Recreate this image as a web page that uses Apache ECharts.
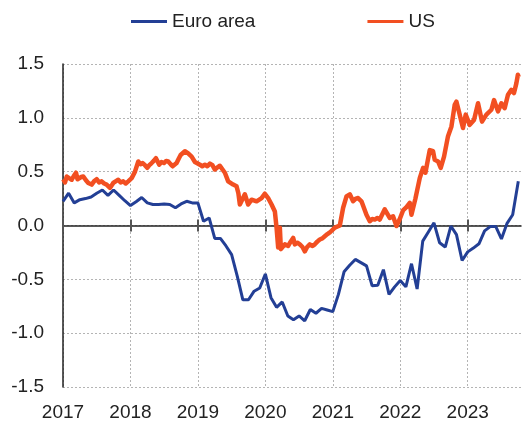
<!DOCTYPE html>
<html>
<head>
<meta charset="utf-8">
<script src="https://cdn.jsdelivr.net/npm/echarts@6/dist/echarts.min.js"></script>
<style>
  html, body { margin: 0; padding: 0; background: #fff; }
  #chart { width: 522px; height: 422px; }
</style>
</head>
<body>
<div id="chart"></div>
<script>
// year ticks on the x axis
var yearTicks = [2017, 2018, 2019, 2020, 2021, 2022, 2023];
var yTicks = [-1.5, -1.0, -0.5, 0.0, 0.5, 1.0, 1.5];

// Euro area, monthly from Jan 2017 to Oct 2023
var euroStart = 2017;
var euroValues = [
  0.225, 0.30, 0.21, 0.24, 0.25, 0.265, 0.30, 0.33, 0.28, 0.33, 0.28, 0.23,
  0.185, 0.22, 0.26, 0.21, 0.195, 0.195, 0.20, 0.195, 0.165, 0.20, 0.225, 0.21,
  0.21, 0.04, 0.07, -0.12, -0.12, -0.19, -0.27, -0.47, -0.69, -0.69, -0.61, -0.58,
  -0.45, -0.67, -0.76, -0.71, -0.84, -0.875, -0.84, -0.885, -0.78, -0.815, -0.77, -0.785,
  -0.80, -0.64, -0.43, -0.37, -0.315, -0.345, -0.375, -0.56, -0.555, -0.41, -0.64, -0.57,
  -0.51, -0.57, -0.355, -0.59, -0.145, -0.06, 0.025, -0.16, -0.20, -0.005, -0.085, -0.325,
  -0.245, -0.21, -0.17, -0.05, -0.01, -0.01, -0.125, 0.02, 0.10, 0.41
];

// US at irregular dates (decimal years)
var usYears = [
  2017.004, 2017.030, 2017.055, 2017.090, 2017.129, 2017.160, 2017.193, 2017.215, 2017.241, 2017.270,
  2017.301, 2017.340, 2017.375, 2017.425, 2017.460, 2017.499, 2017.535, 2017.573, 2017.610, 2017.647,
  2017.696, 2017.720, 2017.745, 2017.780, 2017.819, 2017.855, 2017.893, 2017.930, 2017.967, 2018.018,
  2018.067, 2018.116, 2018.150, 2018.181, 2018.215, 2018.249, 2018.280, 2018.314, 2018.345, 2018.378,
  2018.427, 2018.460, 2018.496, 2018.530, 2018.560, 2018.595, 2018.625, 2018.684, 2018.715, 2018.744,
  2018.807, 2018.856, 2018.907, 2018.956, 2019.030, 2019.065, 2019.104, 2019.140, 2019.178, 2019.215,
  2019.252, 2019.290, 2019.326, 2019.365, 2019.400, 2019.449, 2019.523, 2019.573, 2019.600, 2019.622,
  2019.696, 2019.745, 2019.796, 2019.870, 2019.944, 2019.993, 2020.041, 2020.092, 2020.141, 2020.166,
  2020.190, 2020.215, 2020.230, 2020.289, 2020.338, 2020.375, 2020.412, 2020.437, 2020.475, 2020.511,
  2020.550, 2020.585, 2020.620, 2020.659, 2020.700, 2020.733, 2020.770, 2020.807, 2020.845, 2020.881,
  2020.920, 2020.956, 2021.030, 2021.104, 2021.153, 2021.203, 2021.252, 2021.301, 2021.340, 2021.375,
  2021.425, 2021.499, 2021.548, 2021.585, 2021.622, 2021.660, 2021.696, 2021.770, 2021.844, 2021.893,
  2021.944, 2021.993, 2022.041, 2022.092, 2022.141, 2022.166, 2022.225, 2022.289, 2022.338, 2022.373,
  2022.437, 2022.486, 2022.511, 2022.560, 2022.600, 2022.649, 2022.708, 2022.759, 2022.807, 2022.833,
  2022.881, 2022.930, 2022.970, 2023.030, 2023.093, 2023.153, 2023.212, 2023.277, 2023.351, 2023.390,
  2023.449, 2023.499, 2023.548, 2023.597, 2023.647, 2023.686, 2023.721, 2023.744, 2023.756
];
var usValues = [
  0.43, 0.40, 0.455, 0.44, 0.425, 0.46, 0.49, 0.43, 0.425, 0.45,
  0.455, 0.42, 0.395, 0.38, 0.41, 0.43, 0.40, 0.41, 0.39, 0.38,
  0.35, 0.37, 0.395, 0.41, 0.425, 0.40, 0.41, 0.39, 0.41, 0.44,
  0.50, 0.595, 0.57, 0.58, 0.56, 0.535, 0.56, 0.58, 0.60, 0.625,
  0.565, 0.59, 0.58, 0.60, 0.595, 0.57, 0.55, 0.58, 0.62, 0.655,
  0.69, 0.67, 0.64, 0.59, 0.565, 0.55, 0.565, 0.55, 0.575, 0.56,
  0.52, 0.54, 0.555, 0.52, 0.49, 0.41, 0.38, 0.365, 0.30, 0.195,
  0.29, 0.195, 0.24, 0.225, 0.255, 0.295, 0.255, 0.195, 0.13, -0.02,
  -0.205, -0.02, -0.22, -0.175, -0.19, -0.15, -0.115, -0.175, -0.16, -0.175,
  -0.20, -0.24, -0.20, -0.175, -0.19, -0.175, -0.15, -0.13, -0.12, -0.10,
  -0.08, -0.065, -0.02, 0.0, 0.165, 0.27, 0.29, 0.225, 0.25, 0.255,
  0.225, 0.10, 0.04, 0.06, 0.055, 0.07, 0.055, 0.15, 0.07, 0.085,
  -0.005, 0.06, 0.14, 0.17, 0.21, 0.10, 0.25, 0.44, 0.535, 0.49,
  0.70, 0.69, 0.61, 0.595, 0.535, 0.64, 0.83, 0.92, 1.12, 1.15,
  1.03, 0.905, 1.03, 0.935, 0.98, 1.135, 0.965, 1.03, 1.075, 1.165,
  1.06, 1.135, 1.09, 1.215, 1.26, 1.23, 1.32, 1.40, 1.38
];

var euroData = euroValues.map(function (v, i) { return [euroStart + i / 12, v]; });
var usData = usYears.map(function (t, i) { return [t, usValues[i]]; });

var font = 'Liberation Sans, Arial, sans-serif';
var myChart = echarts.init(document.getElementById('chart'));

var xBase = {
  type: 'value',
  min: 2017,
  max: 2023.79,
  interval: 1
};

myChart.setOption({
  animation: false,
  textStyle: { fontFamily: font },
  legend: {
    left: 131,
    top: 12,
    padding: 0,
    itemGap: 112,
    itemWidth: 36,
    itemHeight: 3,
    icon: 'rect',
    textStyle: { fontSize: 19, color: '#222', fontFamily: font },
    data: ['Euro area', 'US']
  },
  grid: { left: 63, right: 1, top: 64, bottom: 34 },
  xAxis: [
    Object.assign({}, xBase, {
      position: 'bottom',
      axisLine: { show: false, onZero: false },
      axisTick: { show: false },
      axisLabel: {
        customValues: yearTicks,
        formatter: function (v) { return String(Math.round(v)); },
        fontSize: 19, color: '#222', margin: 16, fontFamily: font
      },
      splitLine: {
        show: true, showMaxLine: false,
        lineStyle: { color: '#b4b4b4', type: [2, 2], width: 1 }
      }
    }),
    Object.assign({}, xBase, {
      position: 'bottom',
      axisLine: { show: true, onZero: true, onZeroAxisIndex: 0, lineStyle: { color: '#222', width: 1.5 } },
      axisTick: { show: true, customValues: yearTicks, length: 6, inside: false, lineStyle: { color: '#555', width: 2 } },
      axisLabel: { show: false },
      splitLine: { show: false }
    }),
    Object.assign({}, xBase, {
      position: 'bottom',
      axisLine: { show: false, onZero: true, onZeroAxisIndex: 0 },
      axisTick: { show: true, customValues: yearTicks, length: 6, inside: true, lineStyle: { color: '#555', width: 2 } },
      axisLabel: { show: false },
      splitLine: { show: false }
    })
  ],
  yAxis: {
    type: 'value',
    min: -1.5,
    max: 1.5,
    interval: 0.5,
    axisLine: { show: true, onZero: false, lineStyle: { color: '#222', width: 1.5 } },
    axisTick: { show: false },
    axisLabel: {
      formatter: function (v) { return v.toFixed(1); },
      fontSize: 19, color: '#222', margin: 19, fontFamily: font
    },
    splitLine: {
      show: true,
      lineStyle: { color: '#b4b4b4', type: [2, 2], width: 1 }
    }
  },
  series: [
    {
      name: 'Euro area',
      type: 'line',
      xAxisIndex: 0,
      data: euroData,
      symbol: 'none',
      color: '#233f95',
      lineStyle: { width: 3, color: '#233f95' },
      z: 3
    },
    {
      name: 'US',
      type: 'line',
      xAxisIndex: 0,
      data: usData,
      symbol: 'none',
      color: '#f24f21',
      lineStyle: { width: 4.5, color: '#f24f21', join: 'round' },
      z: 2
    }
  ]
});
</script>
</body>
</html>
